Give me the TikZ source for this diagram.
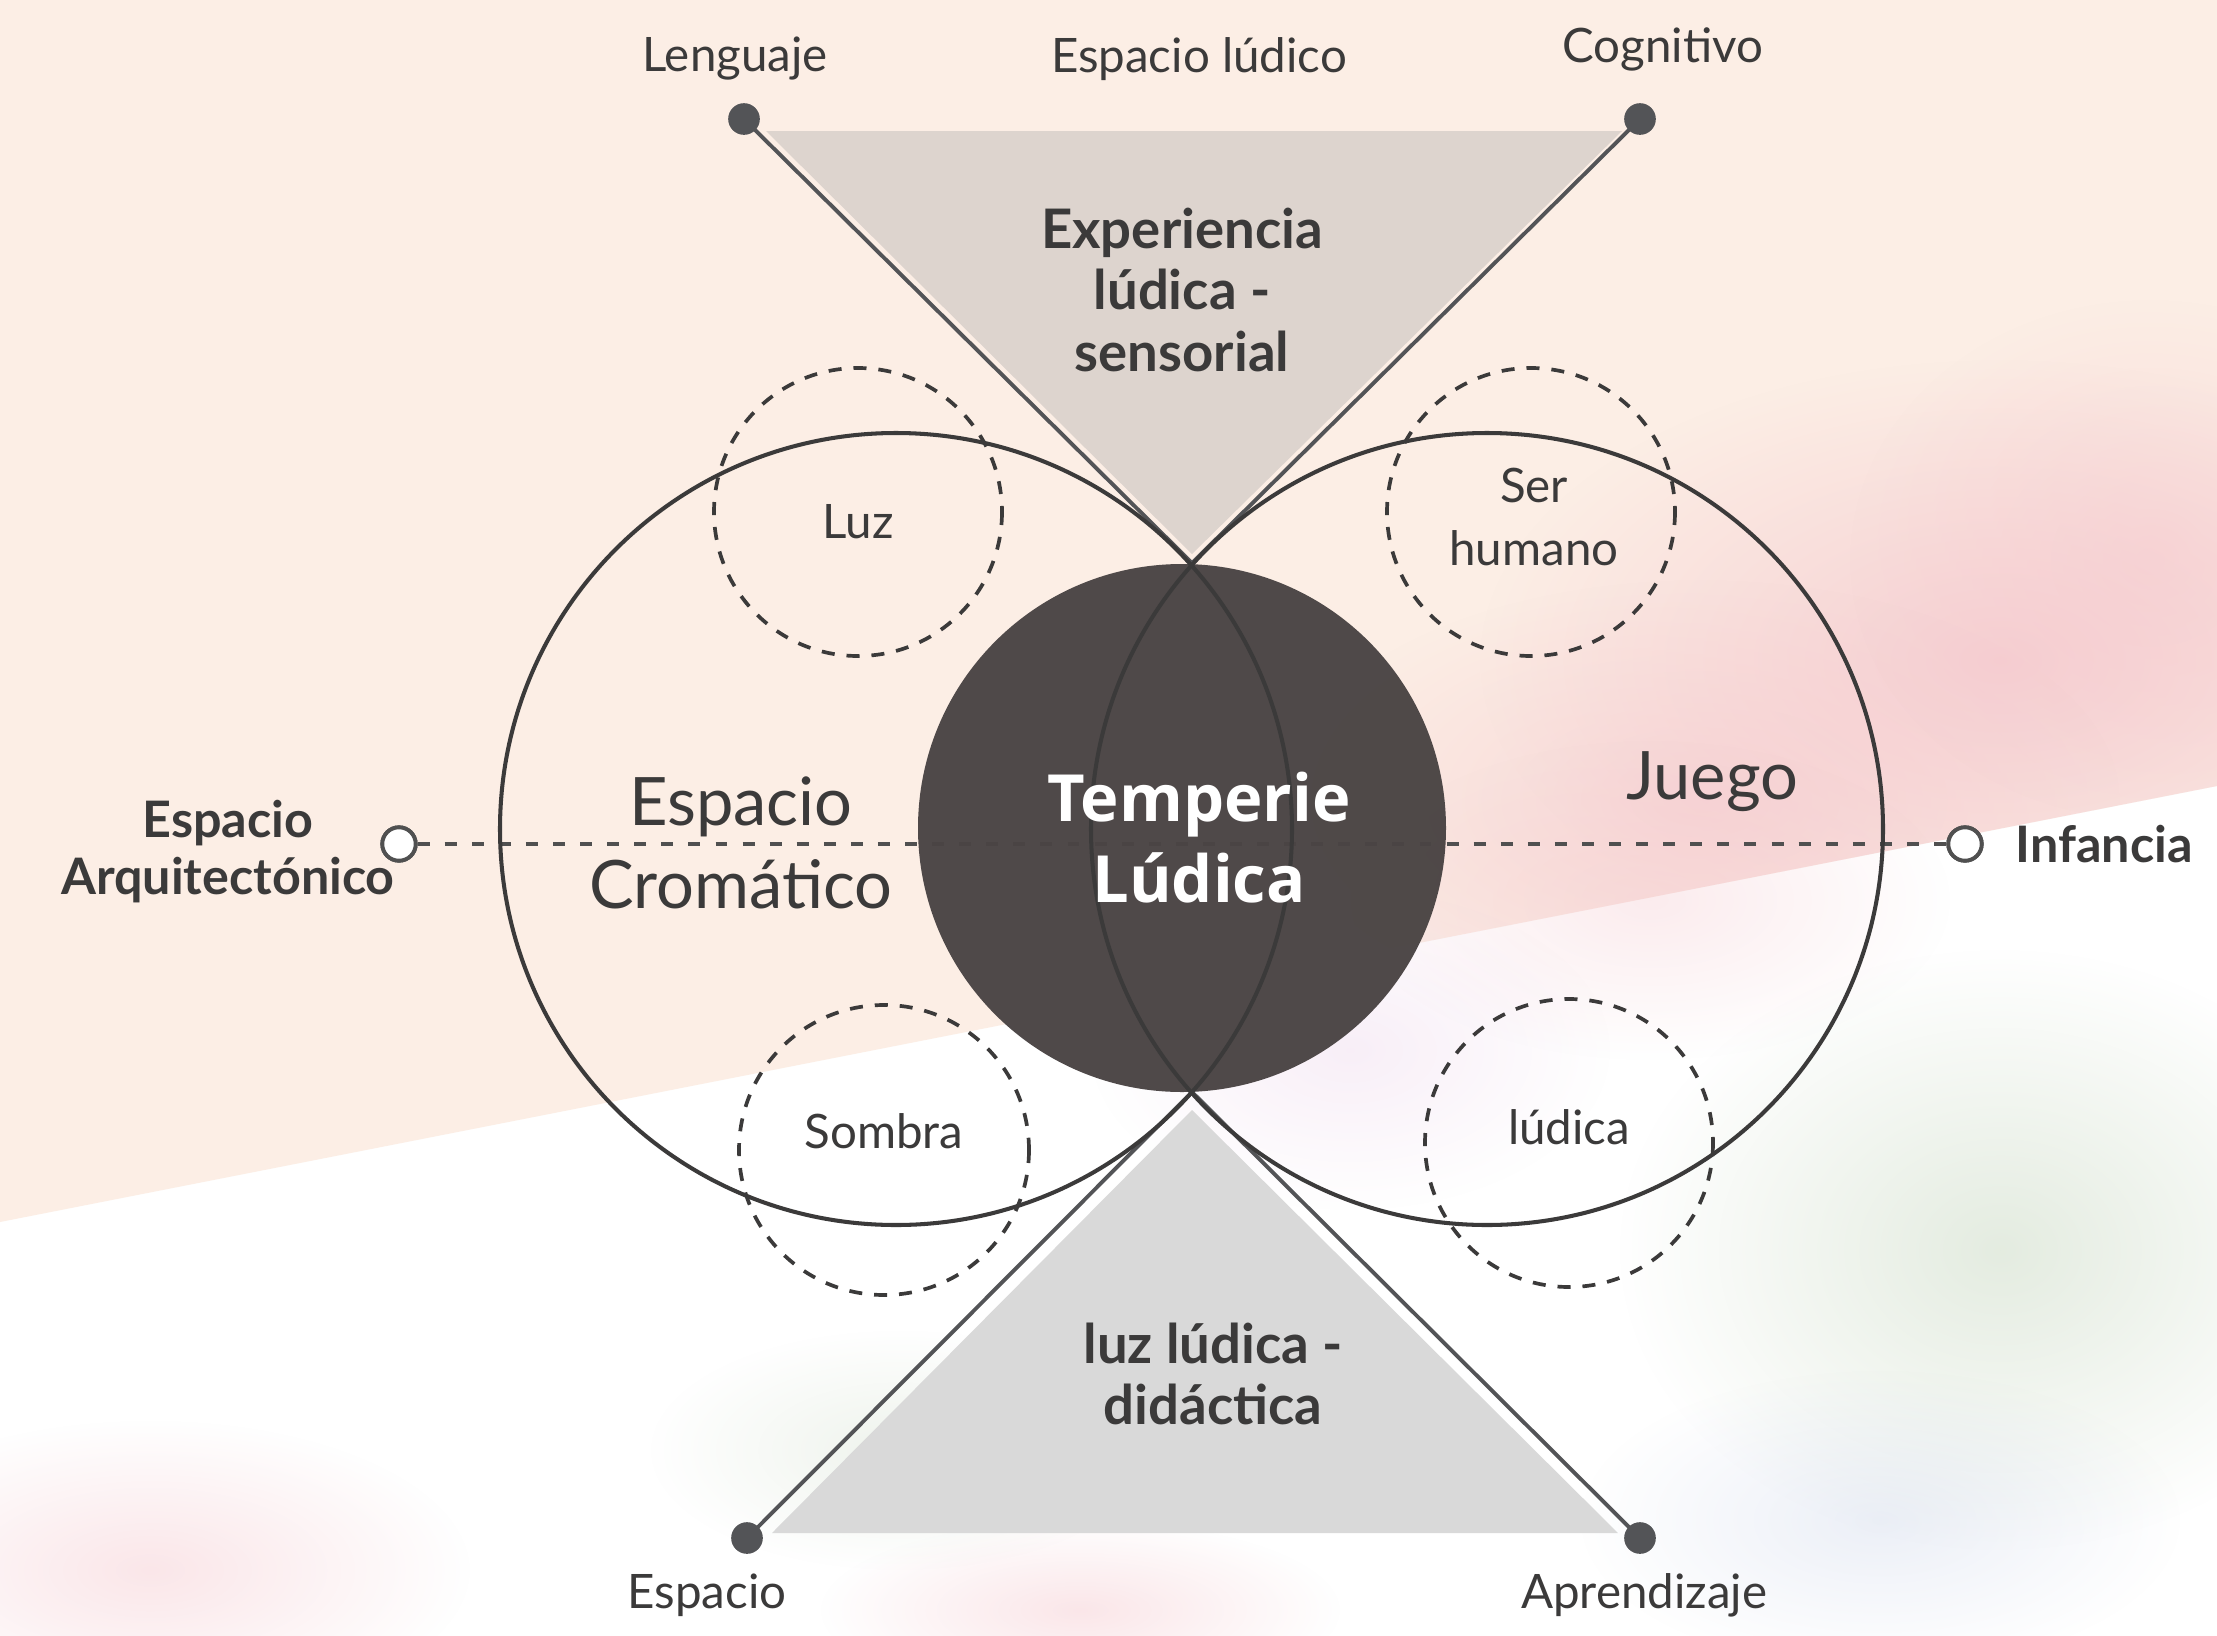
\documentclass[tikz,border=0pt]{standalone}
\usepackage{fontspec}
\setmainfont{Lato}
\newfontfamily\opensans{Open Sans}
\usetikzlibrary{fadings}
\definecolor{peach}{HTML}{FCEEE5}
\definecolor{ink}{HTML}{3B3A3A}
\definecolor{darkc}{HTML}{4A4444}
\definecolor{trione}{HTML}{DDD4CE}
\definecolor{tritwo}{HTML}{D9D9D9}
\definecolor{dotc}{HTML}{535457}
\definecolor{dashc}{HTML}{505050}
\definecolor{blobpink}{HTML}{F5C8CE}
\definecolor{blobgreen}{HTML}{C9D9C2}
\definecolor{blobblue}{HTML}{C8D2E8}
\definecolor{blobmauve}{HTML}{E9C9E6}
\tikzfading[name=fuzzyblob, inner color=transparent!0, outer color=transparent!100]
\tikzset{
  lbl/.style={text=ink, font=\fontsize{13.5}{16}\selectfont, inner sep=0pt},
  blbl/.style={text=ink, font=\fontsize{14.3}{16.2}\selectfont\bfseries, inner sep=0pt, align=center},
  tribl/.style={text=ink, font=\fontsize{15.5}{17.5}\selectfont\bfseries, inner sep=0pt, align=center},
  biglbl/.style={text=ink, font=\fontsize{19}{23.6}\selectfont, inner sep=0pt, align=center},
  bigcirc/.style={draw=ink, line width=1.15pt},
  dashcirc/.style={draw=ink, line width=1.05pt, dash pattern=on 3.7pt off 3.4pt},
  triline/.style={draw=dotc, line width=1.1pt},
  dotnode/.style={circle, fill=dotc, minimum size=9pt, inner sep=0pt},
  opendot/.style={circle, draw=dashc, fill=white, line width=1.1pt, minimum size=9.5pt, inner sep=0pt},
  blob/.style={path fading=fuzzyblob},
}
\begin{document}
\begin{tikzpicture}[x=0.01cm, y=-0.01cm]
\useasboundingbox (0,0) rectangle (2217,1636);
% background
\fill[white] (0,0) rectangle (2217,1636);
\fill[peach] (0,0) -- (2217,0) -- (2217,786) -- (0,1222) -- cycle;
% watercolor blobs
\begin{scope}
\clip (0,0) -- (2217,0) -- (2217,786) -- (0,1222) -- cycle;
\fill[blobpink, opacity=0.8, blob] (2000,660) ellipse (520 and 300);
\fill[blobpink, opacity=0.6, blob] (1700,800) ellipse (420 and 220);
\fill[blobpink, opacity=0.5, blob] (2150,560) ellipse (300 and 260);
\end{scope}
\fill[blobpink, opacity=0.35, blob] (1650,900) ellipse (300 and 160);
\fill[blobmauve, opacity=0.3, blob] (1350,1050) ellipse (260 and 160);
\fill[blobgreen, opacity=0.5, blob] (2000,1250) ellipse (380 and 300);
\fill[blobblue, opacity=0.35, blob] (1880,1520) ellipse (300 and 150);
\fill[blobpink, opacity=0.45, blob] (150,1570) ellipse (320 and 150);
\fill[blobpink, opacity=0.45, blob] (1080,1610) ellipse (260 and 90);
\fill[blobgreen, opacity=0.3, blob] (900,1450) ellipse (250 and 120);
% triangles
\fill[trione] (766,131) -- (1622,131) -- (1192,554) -- cycle;
\fill[tritwo] (1192,1110) -- (772,1533) -- (1618,1533) -- cycle;
% connector end points
\node[dotnode] (dL) at (744,119) {};
\node[dotnode] (dC) at (1640,119) {};
\node[dotnode] (dE) at (747,1538) {};
\node[dotnode] (dA) at (1640,1538) {};
\coordinate (apexT) at (1192,563);
\coordinate (apexB) at (1192,1092);
\draw[triline] (dL.center) -- (apexT) -- (dC.center);
\draw[triline] (dE.center) -- (apexB) -- (dA.center);
% horizontal dashed line
\node[opendot] (oL) at (399,844) {};
\node[opendot] (oR) at (1965,844) {};
\draw[dashc, line width=1.15pt, dash pattern=on 3.4pt off 4.3pt] (oL) -- (oR);
\node[opendot] at (oL) {};
\node[opendot] at (oR) {};
% central circle
\fill[darkc, opacity=0.97] (1182,828) circle (264);
% big circles
\draw[bigcirc] (896,829) circle (396);
\draw[bigcirc] (1487,829) circle (396);
% dashed circles
\draw[dashcirc] (858,512) circle (144);
\draw[dashcirc] (1531,512) circle (144);
\draw[dashcirc] (884,1150) circle (145);
\draw[dashcirc] (1569,1143) circle (144);
% texts
\node[lbl] (tLeng) at (735,59) {Lenguaje};
\node[lbl] (tEsl) at (1199,59) {Espacio lúdico};
\node[lbl] (tCog) at (1663,49) {Cognitivo};
\node[tribl] (tExp) at (1182,290) {Experiencia\\lúdica -\\sensorial};
\node[lbl] (tLuz) at (858,522) {Luz};
\node[lbl, align=center, font=\fontsize{13.5}{17.9}\selectfont] (tSer) at (1534,517) {Ser\\humano};
\node[biglbl] (tEC) at (741,843) {Espacio\\Cromático};
\node[text=white, font=\opensans\fontsize{18.5}{23}\selectfont\bfseries, align=center, inner sep=0pt] (tTL) at (1199,838) {Temperie\\Lúdica};
\node[biglbl] (tJuego) at (1712,782) {Juego};
\node[blbl] (tEA) at (228,852) {Espacio\\Arquitectónico};
\node[blbl] (tInf) at (2104,844) {Infancia};
\node[lbl] (tSom) at (884,1131) {Sombra};
\node[lbl] (tLud) at (1569,1127) {lúdica};
\node[tribl] (tLuzL) at (1213,1374) {luz lúdica -\\didáctica};
\node[lbl] (tEsp) at (707,1595) {Espacio};
\node[lbl] (tApr) at (1644,1595) {Aprendizaje};
\end{tikzpicture}
\end{document}
